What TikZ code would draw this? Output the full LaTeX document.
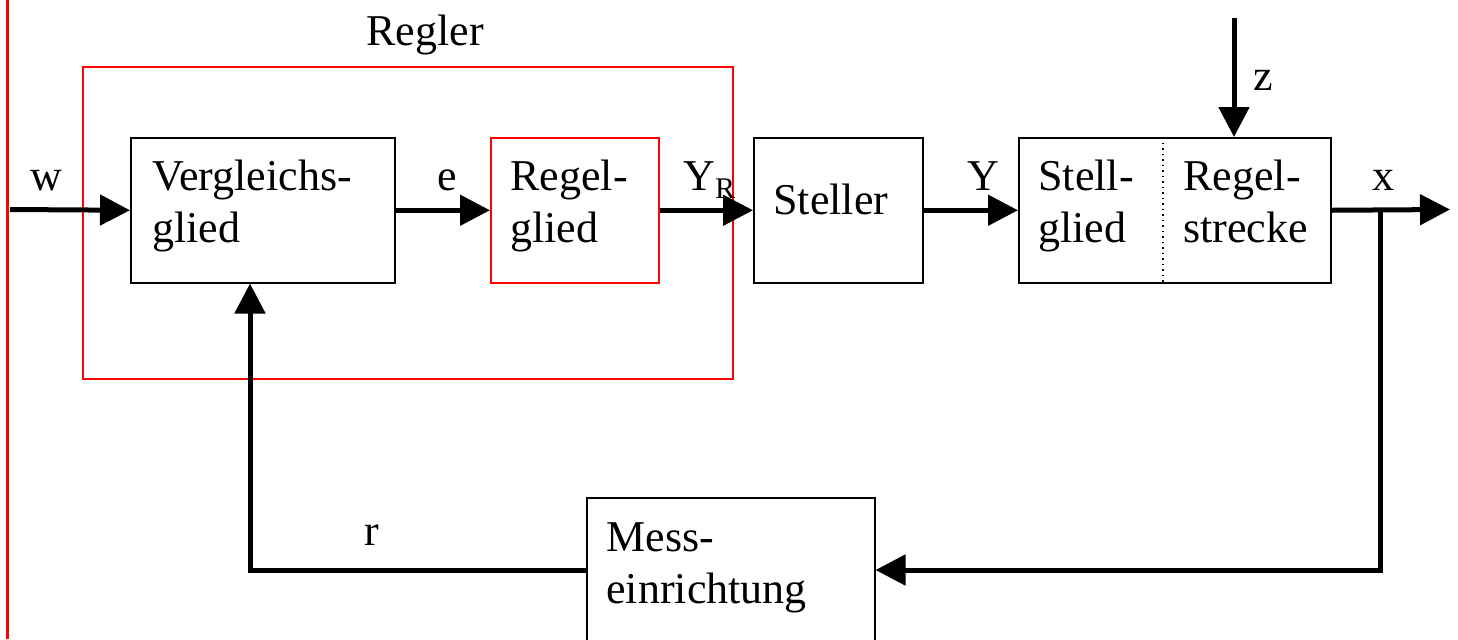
\documentclass[tikz,border=0pt]{standalone}
\usepackage{fontspec}
\setmainfont{Liberation Serif}
\usetikzlibrary{arrows.meta}
\begin{document}
\begin{tikzpicture}[x=0.5pt,y=-0.5pt,
  box/.style={draw, line width=0.75pt, anchor=north west, inner sep=0pt},
  redbox/.style={box, draw=red},
  lbl/.style={anchor=base west, inner sep=0pt, font=\fontsize{22pt}{26pt}\selectfont},
  clbl/.style={lbl, anchor=base},
  flow/.style={line width=2.5pt, -{Triangle[length=15pt,width=15pt]}},
  feed/.style={line width=2.5pt}]
\useasboundingbox (0,0) rectangle (1458,639);

% margin rule on the left
\draw[red, line width=1.5pt] (7,0) -- (7,639);

% blocks
\node[redbox, minimum width=325pt, minimum height=156pt] (regler) at (82,66) {};
\node[box, minimum width=132pt, minimum height=72.5pt] (vg) at (130,137) {};
\node[redbox, minimum width=84pt, minimum height=72.5pt] (rg) at (490,137) {};
\node[box, minimum width=84.5pt, minimum height=72.5pt] (st) at (753,137) {};
\node[box, minimum width=156pt, minimum height=72.5pt] (rs) at (1018,137) {};
\node[box, minimum width=144pt, minimum height=90pt] (me) at (586,497) {};

% dotted divider between Stellglied and Regelstrecke
\coordinate (div) at (1163,0);
\draw[dotted, line width=0.75pt] (div |- rs.north) -- (div |- rs.south);

% block texts
\node[clbl] (t-regler) at (425,45) {Regler};
\node[lbl] (t-vg1) at (152,190) {Vergleichs-};
\node[lbl] (t-vg2) at (152,242) {glied};
\node[lbl] (t-rg1) at (510,190) {Regel-};
\node[lbl] (t-rg2) at (510,242) {glied};
\node[lbl] (t-st) at (773,214) {Steller};
\node[lbl] (t-sg1) at (1038,190) {Stell-};
\node[lbl] (t-sg2) at (1038,242) {glied};
\node[lbl] (t-rs1) at (1183,190) {Regel-};
\node[lbl] (t-rs2) at (1183,242) {strecke};
\node[lbl] (t-me1) at (606,551) {Mess-};
\node[lbl] (t-me2) at (606,603) {einrichtung};

% signal labels
\node[clbl] (l-w) at (46,190) {w};
\node[clbl] (l-e) at (447,190) {e};
\node[lbl] (l-yr) at (683,190) {Y\raisebox{-4pt}{\fontsize{15pt}{15pt}\selectfont R}};
\node[clbl] (l-y) at (983,190) {Y};
\node[clbl] (l-x) at (1383,190) {x};
\node[clbl] (l-z) at (1263,90) {z};
\node[clbl] (l-r) at (372,545) {r};

% forward path
\coordinate (win) at (10,209.5);
\coordinate (xout) at (1450,209.5);
\coordinate (xtap) at (1380,209.5);
\draw[flow] (win) -- (vg.west);
\draw[flow] (vg.east) -- (rg.west);
\draw[flow] (rg.east) -- (st.west);
\draw[flow] (st.east) -- (rs.west);
\draw[flow] (rs.east) -- (xout);

% disturbance
\coordinate (zin) at (1234,18);
\draw[flow] (zin) -- (zin |- rs.north);

% feedback path
\coordinate (fb) at (1380,570);
\coordinate (fbl) at (250,570);
\draw[flow, line join=miter] (xtap) -- (fb) -- (fb -| me.east);
\draw[flow, line join=miter] (fbl -| me.west) -- (fbl) -- (fbl |- vg.south);
\end{tikzpicture}
\end{document}
